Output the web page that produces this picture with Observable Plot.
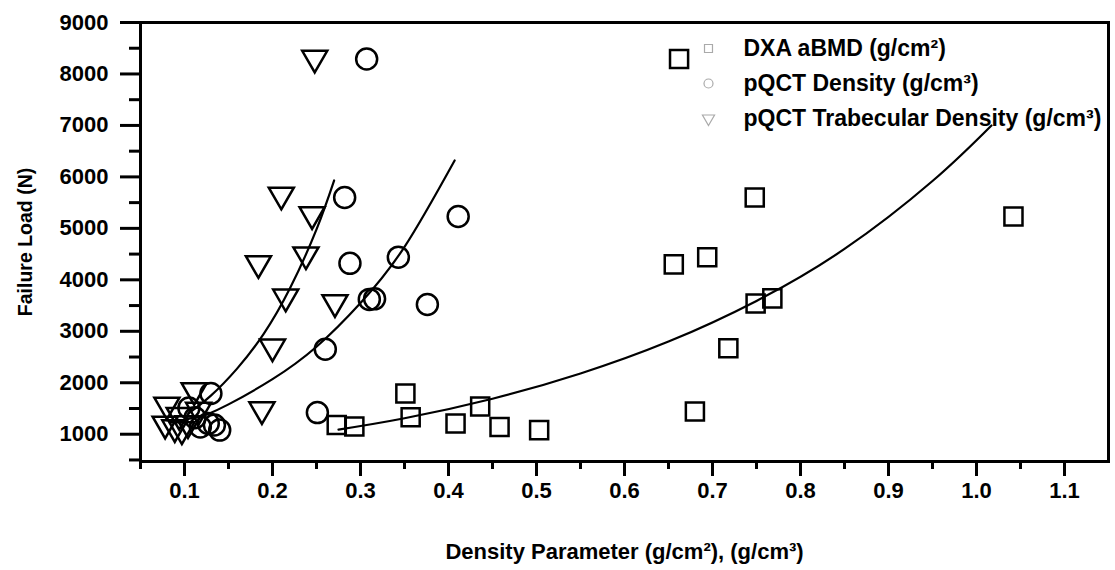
<!DOCTYPE html>
<html><head><meta charset="utf-8">
<script src="https://cdn.jsdelivr.net/npm/d3@7"></script>
<script src="https://cdn.jsdelivr.net/npm/@observablehq/plot@0.6"></script>
<style>
body{margin:0;background:#fff} svg{display:block}
g[aria-label="x-axis tick"], g[aria-label="y-axis tick"] { stroke-width: 3px; }
g[aria-label="frame"] rect, rect[aria-label="frame"] { stroke-width: 3px; }
</style>
</head><body><div id="chart"></div>
<script>
// DXA aBMD (squares)
const dxaX = [0.662, 0.748, 1.042, 0.656, 0.694, 0.749, 0.768, 0.718, 0.680, 0.351, 0.357, 0.408, 0.436, 0.458, 0.503, 0.273, 0.293];
const dxaY = [8290, 5600, 5230, 4300, 4440, 3540, 3640, 2670, 1440, 1790, 1330, 1210, 1540, 1140, 1080, 1180, 1150];
// pQCT Density (circles)
const pqctX = [0.307, 0.282, 0.411, 0.288, 0.343, 0.310, 0.316, 0.376, 0.260, 0.251, 0.130, 0.105, 0.118, 0.127, 0.134, 0.140, 0.112];
const pqctY = [8290, 5600, 5230, 4320, 4440, 3620, 3630, 3520, 2650, 1420, 1790, 1510, 1140, 1210, 1180, 1080, 1320];
// pQCT Trabecular Density (down triangles)
const trabX = [0.248, 0.210, 0.245, 0.184, 0.238, 0.215, 0.271, 0.200, 0.188, 0.080, 0.111, 0.078, 0.089, 0.097, 0.104, 0.094, 0.116];
const trabY = [8240, 5580, 5200, 4250, 4420, 3600, 3490, 2630, 1410, 1500, 1780, 1130, 1060, 1020, 1140, 1300, 1400];

// fitted curves
const dxaCurveX = [0.275, 0.35, 0.45, 0.55, 0.65, 0.75, 0.85, 0.95, 1.017];
const dxaCurveY = [1090, 1310, 1690, 2180, 2800, 3590, 4600, 5920, 7000];
const pqctCurveX = [0.125, 0.15, 0.2, 0.25, 0.3, 0.35, 0.407];
const pqctCurveY = [1380, 1580, 2070, 2700, 3550, 4640, 6320];
const trabCurveX = [0.105, 0.13, 0.16, 0.19, 0.22, 0.25, 0.27];
const trabCurveY = [1410, 1750, 2280, 2950, 3840, 4980, 5930];

// ticks
const xMajor = [0.1, 0.2, 0.3, 0.4, 0.5, 0.6, 0.7, 0.8, 0.9, 1.0, 1.1];
const xMinor = [0.05, 0.15, 0.25, 0.35, 0.45, 0.55, 0.65, 0.75, 0.85, 0.95, 1.05];
const yMajor = [1000, 2000, 3000, 4000, 5000, 6000, 7000, 8000, 9000];
const yMinor = [500, 1500, 2500, 3500, 4500, 5500, 6500, 7500, 8500];

const legendLabels = ["DXA aBMD (g/cm²)", "pQCT Density (g/cm³)", "pQCT Trabecular Density (g/cm³)"];
const xTitle = "Density Parameter (g/cm²), (g/cm³)";
const yTitle = "Failure Load (N)";

const pts = (xs, ys) => xs.map((x, i) => ({x, y: ys[i]}));
const dxa = pts(dxaX, dxaY), pqct = pts(pqctX, pqctY), trab = pts(trabX, trabY);

const triDown = {
  draw(ctx, size) {
    const s3 = Math.sqrt(3);
    const y = -Math.sqrt(size / (s3 * 3));
    ctx.moveTo(0, -y * 2);
    ctx.lineTo(-s3 * y, y);
    ctx.lineTo(s3 * y, y);
    ctx.closePath();
  }
};

const FONT = "Liberation Sans, Arial, sans-serif";
const symbols = ["square", "circle", triDown];

const legendMarks = legendLabels.flatMap((lab, i) => [
  Plot.dot([lab], {frameAnchor: "top-left", dx: 568, dy: 26 + i * 35, symbol: symbols[i], r: 4.5, stroke: "#aaa", strokeWidth: 1.2, fill: "none"}),
  Plot.text([lab], {frameAnchor: "top-left", dx: 603, dy: 26 + i * 35, text: d => d, textAnchor: "start", lineAnchor: "middle", fontSize: 23, fontWeight: "bold", fill: "#000"})
]);

const chart = Plot.plot({
  width: 1115, height: 570,
  marginLeft: 140, marginRight: 7, marginTop: 22, marginBottom: 109,
  x: {domain: [0.05, 1.15]},
  y: {domain: [470, 9000]},
  style: {fontFamily: FONT, fontSize: "22px", color: "#000", background: "#fff"},
  marks: [
    Plot.axisY({ticks: yMajor, tickSize: 20, tickPadding: 12, strokeWidth: 3, tickFormat: d3.format("d"), label: null, fontSize: 22, fontWeight: "bold"}),
    Plot.axisY({ticks: yMinor, tickSize: 11, tickFormat: () => "", strokeWidth: 3, label: null}),
    Plot.axisX({ticks: xMajor, tickSize: 15, tickPadding: 6, tickFormat: d3.format(".1f"), strokeWidth: 3, label: null, fontSize: 22, fontWeight: "bold"}),
    Plot.axisX({ticks: xMinor, tickSize: 8, tickFormat: () => "", strokeWidth: 3, label: null}),
    Plot.frame({stroke: "#000", strokeWidth: 3}),
    Plot.line(pts(dxaCurveX, dxaCurveY), {x: "x", y: "y", curve: "natural", stroke: "#000", strokeWidth: 2.2}),
    Plot.line(pts(pqctCurveX, pqctCurveY), {x: "x", y: "y", curve: "natural", stroke: "#000", strokeWidth: 2.2}),
    Plot.line(pts(trabCurveX, trabCurveY), {x: "x", y: "y", curve: "natural", stroke: "#000", strokeWidth: 2.2}),
    Plot.dot(dxa, {x: "x", y: "y", symbol: "square", r: 10.2, stroke: "#000", strokeWidth: 2.5, fill: "none"}),
    Plot.dot(pqct, {x: "x", y: "y", symbol: "circle", r: 10.5, stroke: "#000", strokeWidth: 2.5, fill: "none"}),
    Plot.dot(trab, {x: "x", y: "y", symbol: triDown, r: 9.3, dy: -3.6, stroke: "#000", strokeWidth: 2.5, fill: "none"}),
    ...legendMarks,
    Plot.text([xTitle], {frameAnchor: "bottom", dy: 90, text: d => d, textAnchor: "middle", lineAnchor: "middle", fontSize: 22, fontWeight: "bold", fill: "#000"}),
    Plot.text([yTitle], {frameAnchor: "left", dx: -115, text: d => d, rotate: -90, textAnchor: "middle", lineAnchor: "middle", fontSize: 19.5, fontWeight: "bold", fill: "#000"})
  ]
});
document.getElementById("chart").appendChild(chart);
</script>
</body></html>
